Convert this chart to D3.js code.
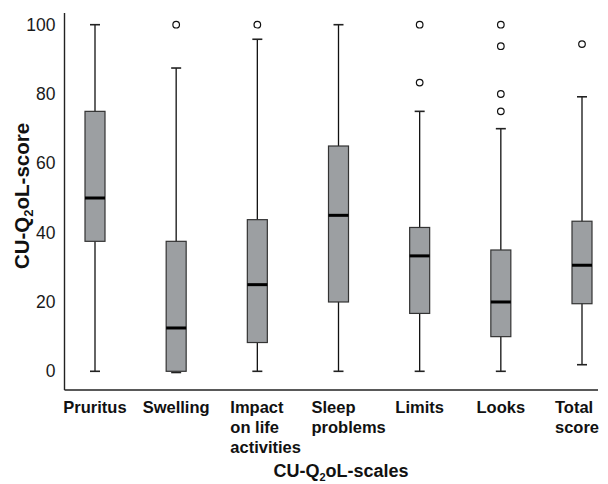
<!DOCTYPE html>
<html>
<head>
<meta charset="utf-8">
<script src="https://cdn.jsdelivr.net/npm/d3@7"></script>
<style>
  body { margin: 0; background: #fff; }
  text { font-family: "Liberation Sans", Arial, sans-serif; }
</style>
</head>
<body>
<div id="chart"></div>
<script>
// data
var categories = ["Pruritus", "Swelling", "Impact on life activities", "Sleep problems", "Limits", "Looks", "Total score"];
var labelLines = [["Pruritus"], ["Swelling"], ["Impact", "on life", "activities"], ["Sleep", "problems"], ["Limits"], ["Looks"], ["Total", "score"]];
var mins    = [0, 0, 0, 0, 0, 0, 1.9];
var q1s     = [37.5, 0, 8.3, 20, 16.7, 10, 19.5];
var medians = [50, 12.5, 25, 45, 33.3, 20, 30.6];
var q3s     = [75, 37.5, 43.75, 65, 41.5, 35, 43.3];
var maxs    = [100, 87.5, 95.8, 100, 75, 70, 79.2];
var outliers = [[], [100], [100], [], [100, 83.3], [100, 93.8, 80, 75], [94.4]];
var yTicks = [0, 20, 40, 60, 80, 100];

var svgWidth = 608;
var svgHeight = 484;

var svg = d3.select("#chart")
    .append("svg")
    .attr("width", svgWidth)
    .attr("height", svgHeight);

// scales
var xScale = d3.scalePoint()
    .domain(categories)
    .range([95, 582]);

var yScale = d3.scaleLinear()
    .domain([0, 100])
    .range([371.3, 24.7]);

var axisLeftX = 64.5;
var axisBottomY = 390;

// y tick labels (no tick marks)
var yAxis = d3.axisLeft(yScale)
    .tickValues(yTicks)
    .tickSize(0)
    .tickPadding(9);

var yAxisG = svg.append("g")
    .attr("transform", `translate(${axisLeftX}, 0)`)
    .call(yAxis);
yAxisG.select(".domain").remove();
yAxisG.selectAll("text")
    .attr("font-size", 17.5)
    .attr("fill", "#1a1a1a")
    .style("font-family", "'Liberation Sans', Arial, sans-serif");

// axis lines
svg.append("line")
    .attr("x1", axisLeftX).attr("x2", axisLeftX)
    .attr("y1", 13).attr("y2", axisBottomY)
    .attr("stroke", "#222").attr("stroke-width", 1.4);
svg.append("line")
    .attr("x1", axisLeftX).attr("x2", 598)
    .attr("y1", axisBottomY).attr("y2", axisBottomY)
    .attr("stroke", "#222").attr("stroke-width", 1.4);

// boxes
var boxW = 20;
var capW = 10;
var boxes = svg.append("g").selectAll("g")
    .data(categories)
    .enter()
    .append("g");

// whisker line
boxes.append("line")
    .attr("x1", d => xScale(d)).attr("x2", d => xScale(d))
    .attr("y1", (d, i) => yScale(mins[i]))
    .attr("y2", (d, i) => yScale(maxs[i]))
    .attr("stroke", "#111").attr("stroke-width", 1.3);

// whisker caps
boxes.append("line")
    .attr("x1", d => xScale(d) - capW / 2).attr("x2", d => xScale(d) + capW / 2)
    .attr("y1", (d, i) => yScale(maxs[i])).attr("y2", (d, i) => yScale(maxs[i]))
    .attr("stroke", "#222").attr("stroke-width", 1.6);
boxes.append("line")
    .attr("x1", d => xScale(d) - capW / 2).attr("x2", d => xScale(d) + capW / 2)
    .attr("y1", (d, i) => yScale(mins[i]) + (q1s[i] === mins[i] ? 1.2 : 0))
    .attr("y2", (d, i) => yScale(mins[i]) + (q1s[i] === mins[i] ? 1.2 : 0))
    .attr("stroke", "#222").attr("stroke-width", 1.6);

// box
boxes.append("rect")
    .attr("x", d => xScale(d) - boxW / 2)
    .attr("width", boxW)
    .attr("y", (d, i) => yScale(q3s[i]))
    .attr("height", (d, i) => yScale(q1s[i]) - yScale(q3s[i]))
    .attr("fill", "#9c9fa2")
    .attr("stroke", "#333")
    .attr("stroke-width", 1.2);

// median
boxes.append("line")
    .attr("x1", d => xScale(d) - boxW / 2).attr("x2", d => xScale(d) + boxW / 2)
    .attr("y1", (d, i) => yScale(medians[i])).attr("y2", (d, i) => yScale(medians[i]))
    .attr("stroke", "#000").attr("stroke-width", 3);

// outliers
boxes.selectAll("circle")
    .data((d, i) => outliers[i].map(v => ({ cat: d, value: v })))
    .enter()
    .append("circle")
    .attr("cx", d => xScale(d.cat))
    .attr("cy", d => yScale(d.value))
    .attr("r", 3.3)
    .attr("fill", "#fff")
    .attr("stroke", "#111")
    .attr("stroke-width", 1.2);

// category labels: one-line labels centred, wrapped ones left-aligned
var catLabels = svg.append("g").selectAll("text")
    .data(categories)
    .enter()
    .append("text")
    .attr("x", (d, i) => labelLines[i].length > 1 ? xScale(d) - 27 : xScale(d))
    .attr("y", 413)
    .attr("text-anchor", (d, i) => labelLines[i].length > 1 ? "start" : "middle")
    .attr("font-size", 16.5)
    .attr("font-weight", "bold")
    .attr("fill", "#111");

catLabels.selectAll("tspan")
    .data((d, i) => labelLines[i])
    .enter()
    .append("tspan")
    .attr("x", function() { return this.parentNode.getAttribute("x"); })
    .attr("dy", (d, j) => j === 0 ? 0 : 20)
    .text(d => d);

// axis titles
var xTitle = svg.append("text")
    .attr("x", 341)
    .attr("y", 477)
    .attr("text-anchor", "middle")
    .attr("font-size", 18)
    .attr("font-weight", "bold")
    .attr("fill", "#111");
xTitle.append("tspan").text("CU-Q");
xTitle.append("tspan").attr("font-size", 11).attr("dy", 4).text("2");
xTitle.append("tspan").attr("dy", -4).text("oL-scales");

var yTitle = svg.append("text")
    .attr("transform", "translate(29, 196) rotate(-90)")
    .attr("text-anchor", "middle")
    .attr("font-size", 20.5)
    .attr("font-weight", "bold")
    .attr("fill", "#111");
yTitle.append("tspan").text("CU-Q");
yTitle.append("tspan").attr("font-size", 13).attr("dy", 4).text("2");
yTitle.append("tspan").attr("dy", -4).text("oL-score");
</script>
</body>
</html>
